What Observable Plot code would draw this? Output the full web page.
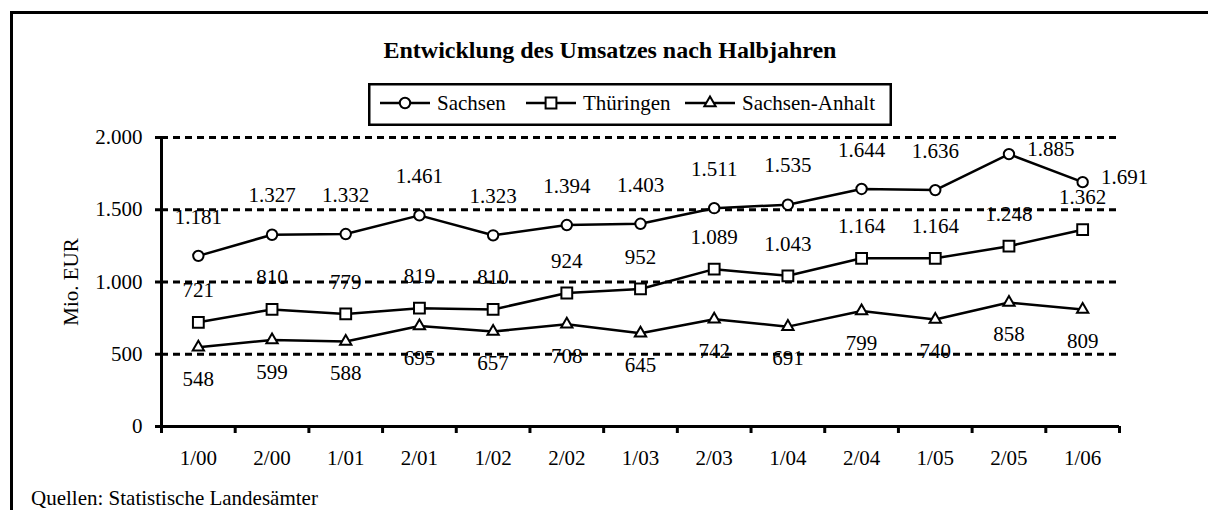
<!DOCTYPE html>
<html>
<head>
<meta charset="utf-8">
<script src="https://cdn.jsdelivr.net/npm/d3@7"></script>
<script src="https://cdn.jsdelivr.net/npm/@observablehq/plot@0.6"></script>
<style>
  html, body { margin: 0; padding: 0; background: #fff; }
  body { width: 1208px; height: 510px; overflow: hidden; position: relative;
         font-family: "Liberation Serif", "Times New Roman", serif; color: #000; }
  #chart { position: absolute; left: 0; top: 0; }
  #frame { position: absolute; left: 10px; top: 11px; width: 1400px; height: 800px;
           border: 3px solid #000; box-sizing: border-box; pointer-events: none; }
  #title { position: absolute; left: 11px; width: 1198px; top: 35px; text-align: center;
           font-weight: bold; font-size: 24px; line-height: 30px; white-space: nowrap; }
  #legend { position: absolute; left: 368px; top: 83px; }
  #caption { position: absolute; left: 31px; top: 486px; font-size: 21px; line-height: 24px; white-space: nowrap; }
</style>
</head>
<body>
<div id="chart"></div>
<div id="frame"></div>
<div id="title">Entwicklung des Umsatzes nach Halbjahren</div>
<div id="legend"></div>
<div id="caption">Quellen: Statistische Landesämter</div>
<script>
// ---- data ----
const periods = ["1/00","2/00","1/01","2/01","1/02","2/02","1/03","2/03","1/04","2/04","1/05","2/05","1/06"];
const seriesNames = ["Sachsen", "Thüringen", "Sachsen-Anhalt"];
const sachsen = [1181, 1327, 1332, 1461, 1323, 1394, 1403, 1511, 1535, 1644, 1636, 1885, 1691];
const thueringen = [721, 810, 779, 819, 810, 924, 952, 1089, 1043, 1164, 1164, 1248, 1362];
const sachsenAnhalt = [548, 599, 588, 695, 657, 708, 645, 742, 691, 799, 740, 858, 809];
const yTicks = [0, 500, 1000, 1500, 2000];
// label placement setting per Sachsen point (like the spreadsheet's label position option)
const sachsenLabelPlacement = ["above","above","above","above","above","above","above","above","above","above","above","right","right"];

// ---- table ----
const seriesValues = [sachsen, thueringen, sachsenAnhalt];
const data = [];
seriesNames.forEach((s, k) => {
  seriesValues[k].forEach((v, i) => {
    data.push({series: s, i, period: periods[i], v,
               place: k === 0 ? sachsenLabelPlacement[i] : (k === 1 ? "above" : "below")});
  });
});

const de = d3.formatLocale({decimal: ",", thousands: ".", grouping: [3], currency: ["", " €"]});
const fmt = de.format(",d");
const FONT = "Liberation Serif, Times New Roman, serif";
const xDomain = [-0.5, periods.length - 0.5];

const bySeries = s => data.filter(d => d.series === s);
const markStyle = {stroke: "#000", strokeWidth: 2, fill: "#fff"};
const symR = [5.2, 6.1, 4.2];

const chart = Plot.plot({
  width: 1208,
  height: 510,
  marginTop: 137,
  marginBottom: 84,
  marginLeft: 161,
  marginRight: 89,
  x: {type: "linear", domain: xDomain},
  y: {domain: [yTicks[0], yTicks[yTicks.length - 1]]},
  style: {fontFamily: FONT, fontSize: "21px", color: "#000", background: "transparent", overflow: "visible"},
  marks: [
    Plot.ruleY(yTicks.filter(d => d > 0), {stroke: "#000", strokeWidth: 3, strokeDasharray: "7,5"}),
    Plot.ruleY([yTicks[0]], {stroke: "#000", strokeWidth: 3}),
    Plot.ruleX([xDomain[0]], {y1: yTicks[0], y2: yTicks[yTicks.length - 1], stroke: "#000", strokeWidth: 3}),
    Plot.axisY({ticks: yTicks, tickFormat: fmt, tickSize: 6, tickPadding: 13, strokeWidth: 3,
                fontSize: 21, label: "Mio. EUR", labelAnchor: "center", labelOffset: 98, labelArrow: "none"}),
    Plot.axisX({ticks: d3.range(periods.length + 1).map(i => i - 0.5), tickSize: 7, strokeWidth: 3,
                tickFormat: () => "", label: null}),
    Plot.axisX({ticks: d3.range(periods.length), tickFormat: i => periods[i], tickSize: 0, tickPadding: 24,
                fontSize: 21, label: null}),
    Plot.line(data, {x: "i", y: "v", z: "series", stroke: "#000", strokeWidth: 2.5}),
    Plot.dot(bySeries("Sachsen"), {x: "i", y: "v", symbol: "circle", r: symR[0], ...markStyle}),
    Plot.dot(bySeries("Thüringen"), {x: "i", y: "v", symbol: "square", r: symR[1], ...markStyle}),
    Plot.dot(bySeries("Sachsen-Anhalt"), {x: "i", y: "v", symbol: "triangle", r: symR[2], ...markStyle}),
    Plot.text(data.filter(d => d.series === "Sachsen" && d.place === "above"),
              {x: "i", y: "v", text: d => fmt(d.v), dy: -39, fontSize: 21, fill: "#000"}),
    Plot.text(data.filter(d => d.series === "Sachsen" && d.place === "right"),
              {x: "i", y: "v", text: d => fmt(d.v), dx: 42, dy: -5, fontSize: 21, fill: "#000"}),
    Plot.text(bySeries("Thüringen"),
              {x: "i", y: "v", text: d => fmt(d.v), dy: -32, fontSize: 21, fill: "#000"}),
    Plot.text(bySeries("Sachsen-Anhalt"),
              {x: "i", y: "v", text: d => fmt(d.v), dy: 32, fontSize: 21, fill: "#000"})
  ]
});
document.getElementById("chart").appendChild(chart);

// ---- legend ----
const LW = 524, LH = 43;
const lsvg = d3.select("#legend").append("svg").attr("width", LW).attr("height", LH)
  .style("font-family", FONT).style("font-size", "21px");
lsvg.append("rect").attr("x", 1.25).attr("y", 1.25).attr("width", LW - 2.5).attr("height", LH - 2.5)
  .attr("fill", "#fff").attr("stroke", "#000").attr("stroke-width", 2.5);
const symbols = [d3.symbolCircle, d3.symbolSquare, d3.symbolTriangle];
const itemX = [12, 158, 317];
const my = 20;
seriesNames.forEach((s, k) => {
  const g = lsvg.append("g").attr("transform", `translate(${itemX[k]},0)`);
  g.append("line").attr("x1", 0).attr("x2", 50).attr("y1", my).attr("y2", my)
    .attr("stroke", "#000").attr("stroke-width", 2.5);
  g.append("path").attr("d", d3.symbol(symbols[k], Math.PI * symR[k] * symR[k])())
    .attr("transform", `translate(25,${my})`).attr("fill", "#fff").attr("stroke", "#000").attr("stroke-width", 2);
  g.append("text").attr("x", 57).attr("y", my + 7).text(s);
});
</script>
</body>
</html>
